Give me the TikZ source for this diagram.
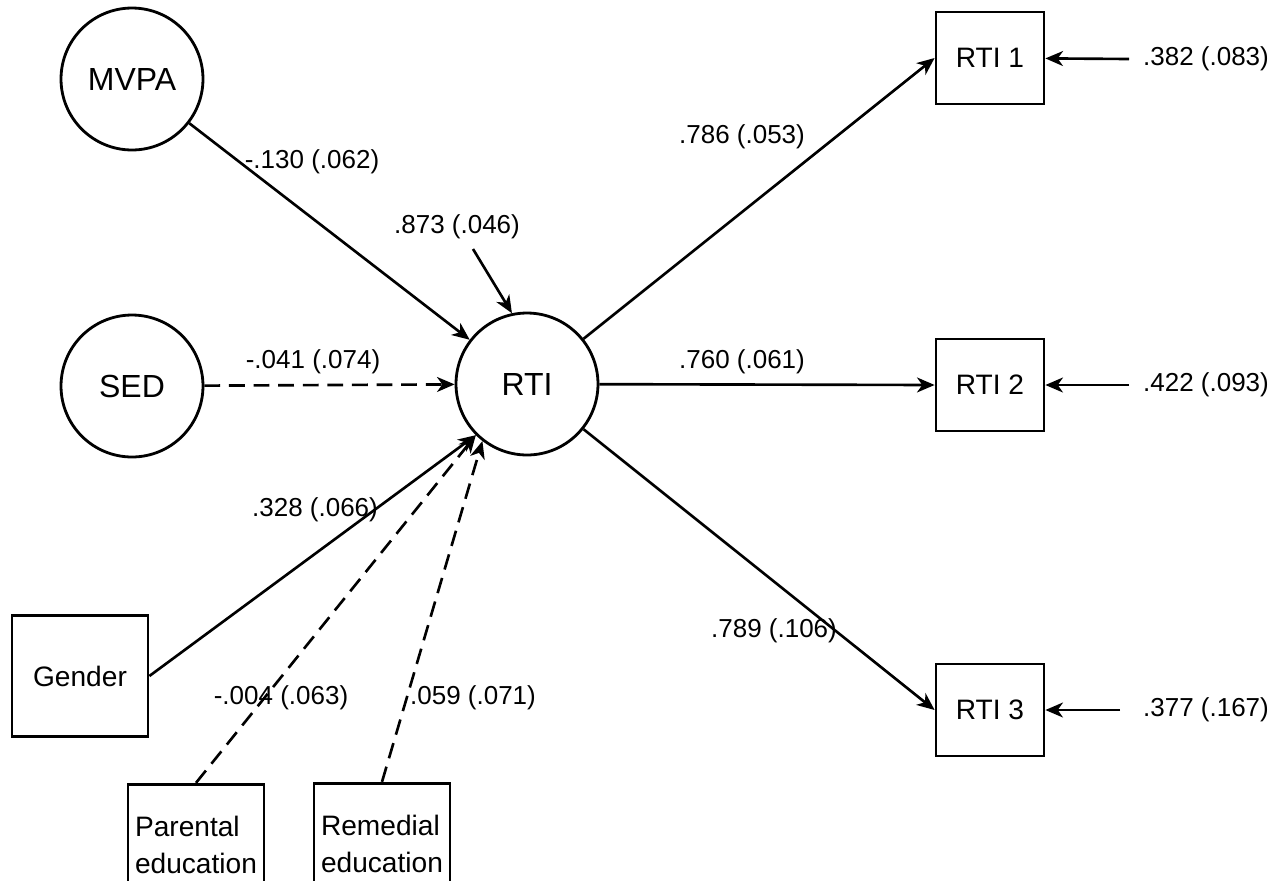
\documentclass[tikz,border=0pt]{standalone}
\usepackage{fontspec}
\setmainfont{Liberation Sans}
\usepackage{tikz}
\usetikzlibrary{arrows.meta}

\begin{document}
\begin{tikzpicture}[x=0.02cm,y=-0.02cm,>={Stealth[length=10pt,width=8.5pt,inset=3pt]},line width=1.5pt,
        latent/.style={circle,draw,line width=1.6pt,minimum size=2.84cm,inner sep=0pt,font=\fontsize{18.2}{21}\selectfont},
        obs/.style={rectangle,draw,line width=1.6pt,minimum width=2.16cm,minimum height=1.84cm,font=\fontsize{16}{19}\selectfont},
        cov/.style={rectangle,draw,line width=1.6pt,minimum width=2.72cm,minimum height=2.43cm,align=left,font=\fontsize{16}{21}\selectfont},
        coef/.style={inner sep=1pt,font=\fontsize{14.8}{17}\selectfont},
        dashy/.style={dash pattern=on 9pt off 5pt}]
  \useasboundingbox (0,0) rectangle (1279,880);

        	\node[latent] (mvpa) at (132,79)  {MVPA};
        	\node[latent] (sed)  at (132,386) {SED};
        	\node[latent] (rti)  at (527,384) {RTI};

        	\node[cov] (gender)   at (80,676)  {Gender};
        	\node[cov] (parental) at (196,845) {Parental\\education};
        	\node[cov] (remedial) at (382,844) {Remedial\\education};

        	\node[obs] (r1) at (990,58)  {RTI 1};
        	\node[obs] (r2) at (990,385) {RTI 2};
        	\node[obs] (r3) at (990,710) {RTI 3};

            % residuals
        	\node[coef] (e0) at (457,227)  {.873 (.046)};
        	\node[coef] (e1) at (1206,59)  {.382 (.083)};
        	\node[coef] (e2) at (1206,385) {.422 (.093)};
        	\node[coef] (e3) at (1206,710) {.377 (.167)};
            \coordinate (u0) at (473,249);
            \coordinate (u1) at (1129,59);
            \coordinate (u2) at (1129,385);
            \coordinate (u3) at (1120,710);

            % path coefficients
        	\node[coef] (b1) at (312,162) {-.130 (.062)};
        	\node[coef] (b2) at (313,362) {-.041 (.074)};
        	\node[coef] (b3) at (315,510) {.328 (.066)};
        	\node[coef] (b4) at (281,698) {-.004 (.063)};
        	\node[coef] (b5) at (473,698) {.059 (.071)};
        	\node[coef] (l1) at (742,137) {.786 (.053)};
        	\node[coef] (l2) at (742,362) {.760 (.061)};
        	\node[coef] (l3) at (774,631) {.789 (.106)};

  			\path[->]
                     (mvpa) edge (rti)
                     (gender.east) edge (rti.225)
                     (u0) edge (rti.102)

                     (rti) edge (r1.west)
                     (rti) edge (r2.west)
                     (rti) edge (r3.west)

                     (u1) edge (r1)
                     (u2) edge (r2)
                     (u3) edge (r3)
                     ;
  			\path[->,dashy]
                     (sed) edge (rti)
                     (parental.north) edge (rti.225)
                     (remedial.north) edge (rti.232)
                     ;
\end{tikzpicture}
\end{document}
